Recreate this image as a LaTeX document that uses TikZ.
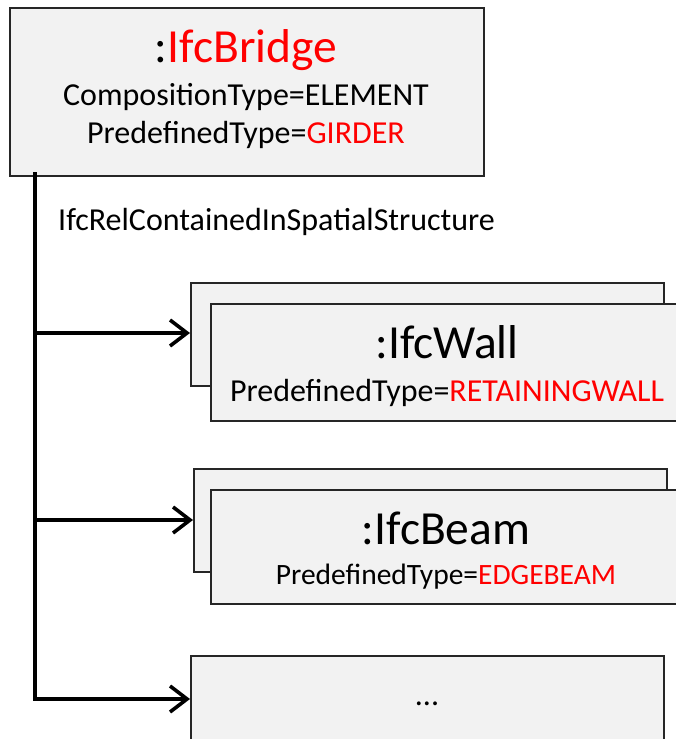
\documentclass[tikz,border=0pt]{standalone}
\usepackage{fontspec}
\setmainfont{Carlito}
\usetikzlibrary{arrows.meta}
\definecolor{boxfill}{HTML}{F2F2F2}
\definecolor{boxline}{HTML}{262626}
\definecolor{ifcred}{HTML}{FF0000}
\tikzset{
  objbox/.style={draw=boxline, fill=boxfill, line width=1.6pt},
  rel/.style={line width=3.6pt, black},
  relarrow/.style={rel, -{Straight Barb[length=17pt, width=26pt, line width=3.6pt]}},
  txt/.style={inner sep=0pt, anchor=base},
}
\newcommand{\fsz}[1]{\fontsize{#1}{#1}\selectfont}
\begin{document}
\begin{tikzpicture}[x=1pt, y=-1pt]
\useasboundingbox (0,0) rectangle (676,739);
% top box
\node[objbox, minimum width=474pt, minimum height=168pt, anchor=north west, inner sep=0pt] (bridge) at (9,7) {};
\node[txt] (bt) at (246,62) {\fsz{47.5}:\textcolor{ifcred}{IfcBridge}};
\node[txt] (bc) at (246,105.5) {\fsz{32}CompositionType=ELEMENT};
\node[txt] (bp) at (246,143.5) {\fsz{32}PredefinedType=\textcolor{ifcred}{GIRDER}};
% wall
\node[objbox, minimum width=473pt, minimum height=103pt, anchor=north west, inner sep=0pt] (wallback) at (190,282) {};
\node[objbox, minimum width=480pt, minimum height=117pt, anchor=north west, inner sep=0pt] (wall) at (210,303) {};
\node[txt] (wt) at (447,358) {\fsz{47.5}:IfcWall};
\node[txt] (wp) at (447,401) {\fsz{32}PredefinedType=\textcolor{ifcred}{RETAININGWALL}};
% beam
\node[objbox, minimum width=473pt, minimum height=103pt, anchor=north west, inner sep=0pt] (beamback) at (193,468) {};
\node[objbox, minimum width=480pt, minimum height=114pt, anchor=north west, inner sep=0pt] (beam) at (210,489) {};
\node[txt] (et) at (446,544) {\fsz{47.5}:IfcBeam};
\node[txt] (ep) at (446,584) {\fsz{29.5}PredefinedType=\textcolor{ifcred}{EDGEBEAM}};
% dots
\node[objbox, minimum width=473pt, minimum height=100pt, anchor=north west, inner sep=0pt] (more) at (190,655) {};
\node[txt] (dots) at (427,705) {\fsz{32}...};
% connectors
\coordinate (top) at (35,172);
\coordinate (j1) at (35,333);
\coordinate (j2) at (35,520);
\coordinate (j3) at (35,699);
\draw[rel] (top) -- (j3 |- 0,700.8);
\draw[relarrow] (j1) -- (wallback.west |- j1);
\draw[relarrow] (j2) -- (beamback.west |- j2);
\draw[relarrow] (j3) -- (more.west |- j3);
\node[anchor=base west, inner sep=0pt] (rellabel) at (58,230) {\fsz{32}IfcRelContainedInSpatialStructure};
\end{tikzpicture}
\end{document}
